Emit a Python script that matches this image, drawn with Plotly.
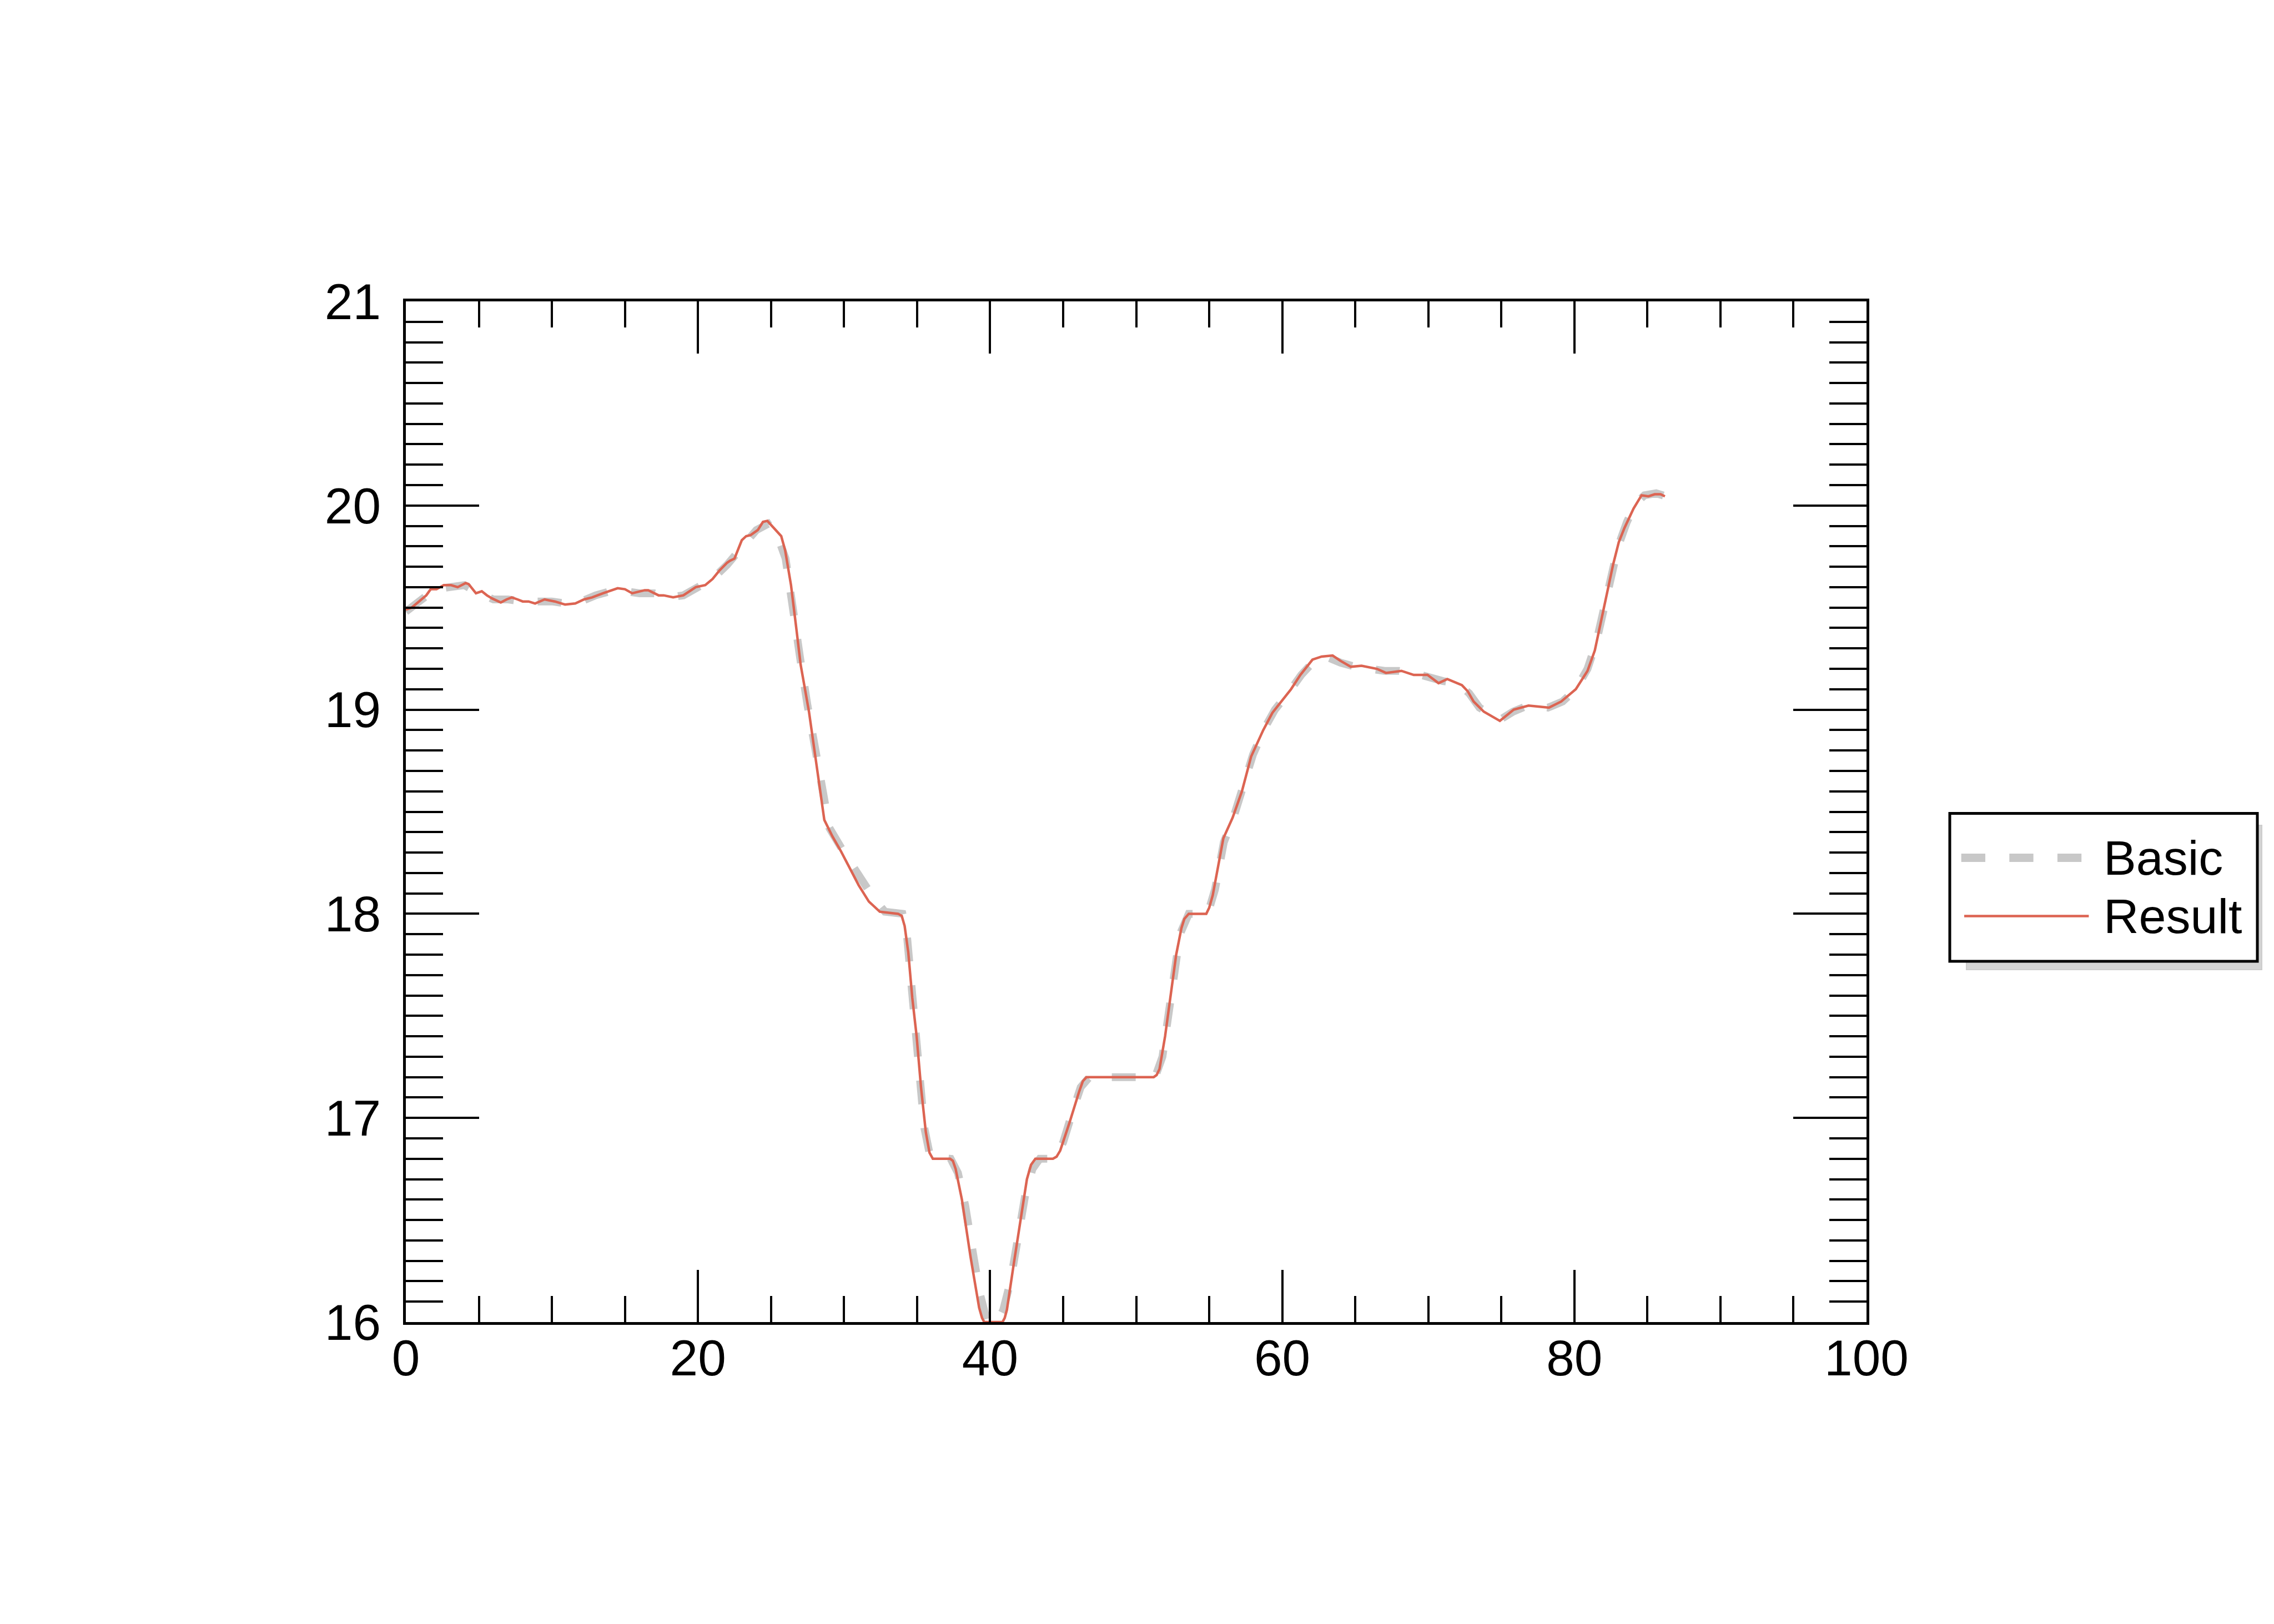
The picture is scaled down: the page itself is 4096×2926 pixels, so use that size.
import plotly.graph_objects as go

# ---- data ----
result_x = [0.0, 0.4, 0.9, 1.4, 1.7, 2.1, 2.6, 3.1, 3.55, 4.1, 4.3, 4.8, 5.2, 5.55, 5.9, 6.5, 6.9, 7.25, 7.65, 8.0,
            8.4, 8.85, 9.5, 10.2, 10.9, 11.6, 12.2, 12.75, 13.5, 14.5, 15.0, 15.5, 16.35, 16.6, 17.3, 17.65, 18.3, 19.0,
            19.85, 20.5, 21.0, 21.45, 22.0, 22.2, 22.5, 23.0, 23.3, 23.6, 24.1, 24.45, 24.75, 25.2, 25.7, 25.97, 26.37,
            26.73, 27.03, 27.6, 28.17, 28.65, 29.2, 29.8, 31.0, 31.7, 32.45, 33.7, 33.95, 34.15, 34.4, 34.67, 34.97,
            35.27, 35.6, 35.85, 36.08, 37.26, 37.45, 37.64, 38.07, 38.66, 39.25, 39.45, 39.6, 40.85, 41.0, 41.15, 41.63,
            42.1, 42.52, 42.8, 43.1, 44.3, 44.55, 44.8, 45.45, 46.1, 46.35, 46.6, 51.2, 51.4, 51.6, 51.98, 52.36, 52.74,
            53.1, 53.3, 53.6, 54.8, 55.0, 55.24, 55.97, 56.6, 57.24, 57.87, 58.7, 59.33, 60.6, 61.24, 62.07, 62.7, 63.45,
            63.97, 64.7, 65.43, 66.48, 67.1, 68.16, 69.0, 69.95, 70.7, 71.3, 72.3, 72.7, 73.1, 73.8, 74.9, 75.85, 76.86,
            78.26, 79.1, 80.1, 80.9, 81.4, 81.78, 82.3, 82.65, 83.04, 83.43, 84.05, 84.6, 85.07, 85.5, 85.9, 86.2]
result_y = [19.49, 19.50, 19.53, 19.56, 19.59, 19.59, 19.61, 19.61, 19.60, 19.62, 19.615, 19.57, 19.58, 19.56, 19.545,
            19.525, 19.54, 19.55, 19.54, 19.53, 19.53, 19.52, 19.54, 19.53, 19.515, 19.52, 19.54, 19.55, 19.57, 19.595,
            19.59, 19.57, 19.585, 19.585, 19.56, 19.56, 19.55, 19.56, 19.60, 19.61, 19.64, 19.68, 19.72, 19.73, 19.74,
            19.83, 19.85, 19.855, 19.88, 19.92, 19.925, 19.89, 19.85, 19.78, 19.61, 19.40, 19.22, 18.99, 18.70, 18.46,
            18.38, 18.305, 18.14, 18.06, 18.01, 18.00, 17.99, 17.94, 17.81, 17.59, 17.40, 17.15, 16.93, 16.83, 16.80,
            16.80, 16.79, 16.75, 16.60, 16.32, 16.07, 16.02, 16.00, 16.00, 16.02, 16.06, 16.29, 16.51, 16.70, 16.77,
            16.80, 16.80, 16.81, 16.84, 16.98, 17.13, 17.18, 17.20, 17.20, 17.21, 17.24, 17.40, 17.61, 17.80, 17.93,
            17.975, 18.00, 18.00, 18.03, 18.09, 18.37, 18.47, 18.60, 18.77, 18.90, 18.985, 19.10, 19.17, 19.245, 19.26,
            19.265, 19.24, 19.21, 19.215, 19.20, 19.18, 19.19, 19.17, 19.17, 19.13, 19.15, 19.12, 19.09, 19.04, 18.99,
            18.945, 19.00, 19.02, 19.01, 19.04, 19.10, 19.19, 19.29, 19.42, 19.585, 19.71, 19.82, 19.89, 19.985, 20.05,
            20.045, 20.055, 20.055, 20.045]

basic_x = [0, 1, 2, 3, 4, 5, 6, 7, 8, 9, 10, 11, 12, 13, 14, 15, 16, 17, 18, 19, 20, 21, 22, 23, 24, 24.8, 25.5, 26.0,
           26.5, 27.0, 27.5, 28.0, 28.5, 29.0, 30.0, 31.0, 32.0, 32.8, 34.0, 34.3, 34.6, 34.9, 35.2, 35.5, 35.9, 37.3,
           37.8, 38.3, 38.8, 39.3, 39.8, 40.5, 40.9, 41.4, 41.9, 42.4, 42.9, 43.4, 44.4, 45.0, 45.6, 46.2, 46.8, 51.3,
           51.8, 52.2, 52.6, 53.0, 53.6, 54.9, 55.4, 56.0, 56.7, 57.3, 58.0, 58.8, 59.5, 60.5, 61.3, 62.2, 63.0, 64.0,
           65.0, 66.0, 67.0, 68.0, 69.0, 70.0, 71.0, 72.0, 72.8, 73.5, 74.3, 74.9, 75.8, 76.8, 78.2, 79.2, 80.1, 80.9,
           81.5, 82.0, 82.5, 83.0, 83.6, 84.2, 84.8, 85.6, 86.5]
basic_y = [19.48, 19.53, 19.59, 19.60, 19.61, 19.57, 19.54, 19.54, 19.53, 19.53, 19.53, 19.52, 19.53, 19.56, 19.58,
           19.58, 19.57, 19.57, 19.55, 19.56, 19.60, 19.64, 19.71, 19.80, 19.88, 19.91, 19.84, 19.74, 19.52, 19.25,
           19.02, 18.82, 18.58, 18.42, 18.30, 18.19, 18.08, 18.01, 18.00, 17.90, 17.68, 17.43, 17.17, 16.95, 16.81,
           16.80, 16.73, 16.57, 16.35, 16.14, 16.00, 16.00, 16.06, 16.20, 16.41, 16.62, 16.75, 16.80, 16.80, 16.88,
           17.02, 17.15, 17.20, 17.20, 17.30, 17.50, 17.72, 17.90, 18.00, 18.00, 18.12, 18.35, 18.48, 18.62, 18.78,
           18.91, 19.00, 19.09, 19.17, 19.24, 19.26, 19.23, 19.21, 19.20, 19.19, 19.19, 19.18, 19.16, 19.14, 19.13,
           19.08, 19.01, 18.97, 18.95, 18.99, 19.02, 19.01, 19.04, 19.10, 19.20, 19.33, 19.50, 19.66, 19.80, 19.92,
           20.01, 20.05, 20.06, 20.04]

series_names = ["Basic", "Result"]
x_range = [0, 100]
y_range = [16, 21]

FONT = "Liberation Sans, Arial, Helvetica, sans-serif"
GRAY = "#c8c8c8"
RED = "#dc6452"
PAGE_OFF = 8                      # default body margin of the written page
W, H = 4096 - PAGE_OFF, 2926 - PAGE_OFF
ML, MR, MT, MB = 723, 734, 535, 544

fig = go.Figure()
fig.add_trace(go.Scatter(x=basic_x, y=basic_y, mode="lines", name=series_names[0], showlegend=False,
                         line=dict(color=GRAY, width=14, dash="43px,43px")))
fig.add_trace(go.Scatter(x=result_x, y=result_y, mode="lines", name=series_names[1], showlegend=False,
                         line=dict(color=RED, width=4.5)))

axis_common = dict(showgrid=False, zeroline=False, showline=True, linecolor="black", linewidth=4.5,
                   mirror="allticks", ticks="inside", tickcolor="black", tickwidth=4,
                   tickfont=dict(family=FONT, size=91, color="black"))

fig.update_xaxes(range=x_range, dtick=20, tick0=0, ticklen=94, ticklabelstandoff=-18,
                 minor=dict(dtick=5, ticklen=47, tickwidth=4, tickcolor="black", ticks="inside"),
                 **axis_common)
fig.update_yaxes(range=y_range, dtick=1, tick0=16, ticklen=132, ticklabelstandoff=22,
                 minor=dict(dtick=0.1, ticklen=67, tickwidth=4, tickcolor="black", ticks="inside"),
                 **axis_common)

plot_w = W - ML - MR
plot_h = H - MT - MB


def px_x(px):
    return (px - ML) / plot_w


def px_y(py):
    return (H - MB - py) / plot_h


# ---- legend box (figure pixel layout, converted to paper units) ----
BOX_L, BOX_R, BOX_T, BOX_B = 3504, 4058, 1457.5, 1724
fig.add_shape(type="rect", xref="paper", yref="paper", layer="above",
              x0=px_x(3534), x1=px_x(4066), y0=px_y(1739), y1=px_y(1479),
              fillcolor="#d4d4d4", line=dict(color="#cccccc", width=2))
fig.add_shape(type="rect", xref="paper", yref="paper", layer="above",
              x0=px_x(BOX_L), x1=px_x(BOX_R), y0=px_y(BOX_B), y1=px_y(BOX_T),
              fillcolor="white", line=dict(color="black", width=5))

legend_rows = [1537.5, 1642.5]
legend_styles = [dict(color=GRAY, width=15, dash="43.3px,43.3px"), dict(color=RED, width=4.6)]
legend_spans = [(3524.7, 3741.4), (3530, 3754.4)]
for name, row, style, (x0, x1) in zip(series_names, legend_rows, legend_styles, legend_spans):
    fig.add_shape(type="line", xref="paper", yref="paper", layer="above",
                  x0=px_x(x0), x1=px_x(x1), y0=px_y(row), y1=px_y(row), line=style)
    fig.add_annotation(xref="paper", yref="paper", x=px_x(3779), y=px_y(row),
                       xanchor="left", yanchor="middle", showarrow=False, text=name,
                       font=dict(family=FONT, size=88, color="black"))

fig.update_layout(
    width=W, height=H,
    margin=dict(l=ML, r=MR, t=MT, b=MB, pad=0),
    paper_bgcolor="white", plot_bgcolor="white",
    showlegend=False,
    font=dict(family=FONT, color="black"),
)

fig.write_html("out.html")
